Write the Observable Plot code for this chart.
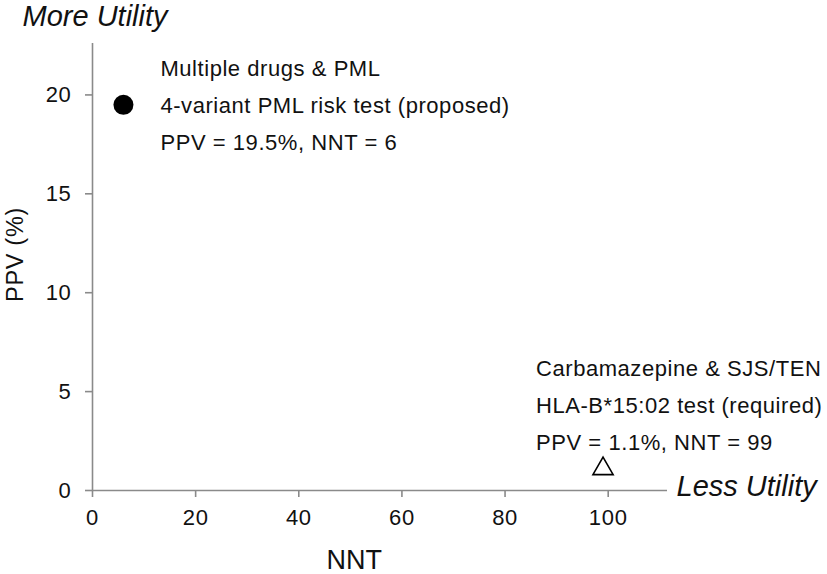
<!DOCTYPE html>
<html>
<head>
<meta charset="utf-8">
<script src="https://cdn.jsdelivr.net/npm/d3@7"></script>
<script src="https://cdn.jsdelivr.net/npm/@observablehq/plot@0.6"></script>
<style>
  html, body { margin: 0; padding: 0; background: #fff; }
  #chart svg { display: block; }
  #chart svg text { letter-spacing: 0.03em; }
  #chart svg .nospace text { letter-spacing: 0; }
  #chart svg .ann text { letter-spacing: 0.025em; }
</style>
</head>
<body>
<div id="chart"></div>
<script>
// Data
const tests = ["4-variant PML risk test (proposed)", "HLA-B*15:02 test (required)"];
const contexts = ["Multiple drugs & PML", "Carbamazepine & SJS/TEN"];
const nntValues = [6, 99];
const ppvValues = [19.5, 1.1];
const symbols = ["circle", "triangle"];
const xTicks = [0, 20, 40, 60, 80, 100];
const yTicks = [0, 5, 10, 15, 20];

const points = tests.map((t, i) => ({
  test: t, context: contexts[i], nnt: nntValues[i], ppv: ppvValues[i], symbol: symbols[i],
  label: `${contexts[i]}\n${t}\nPPV = ${ppvValues[i]}%, NNT = ${nntValues[i]}`
}));

const font = "Liberation Sans, Arial, Helvetica, sans-serif";
const axisColor = "#8a8a8a";
const textColor = "#111";

const chart = Plot.plot({
  width: 827,
  height: 574,
  marginLeft: 92,
  marginRight: 160,
  marginTop: 43,
  marginBottom: 84,
  style: { fontFamily: font, color: textColor, background: "#fff", overflow: "visible" },
  x: { domain: [0, 111.5] },
  y: { domain: [0, 22.6] },
  marks: [
    Plot.ruleY([0], { stroke: axisColor, strokeWidth: 1.6 }),
    Plot.ruleX([0], { stroke: axisColor, strokeWidth: 1.6 }),
    Plot.axisX({ ticks: xTicks, tickSize: 7, tickPadding: 12, stroke: axisColor, strokeWidth: 1.6, fontSize: 22, fill: textColor, label: null }),
    Plot.axisY({ ticks: yTicks, tickSize: 7, tickPadding: 14, stroke: axisColor, strokeWidth: 1.6, fontSize: 22, fill: textColor, label: null }),
    Plot.dot([points[0]], { x: "nnt", y: "ppv", r: 10, fill: "#000", stroke: "none", symbol: "circle" }),
    Plot.dot([points[1]], { x: "nnt", y: "ppv", r: 7.5, fill: "#fff", stroke: "#000", strokeWidth: 1.6, symbol: "triangle" }),
    Plot.text([points[0]], { className: "ann", x: "nnt", y: "ppv", text: "label", textAnchor: "start", lineAnchor: "middle", lineHeight: 1.68, dx: 37, dy: -4, fontSize: 22, fill: textColor }),
    Plot.text([points[1]], { className: "ann", x: "nnt", y: "ppv", text: "label", textAnchor: "start", lineAnchor: "middle", lineHeight: 1.68, dx: -67, dy: -68, fontSize: 22, fill: textColor }),
    Plot.text(["More Utility"], { className: "nospace", frameAnchor: "top-left", dx: -70, dy: -38, textAnchor: "start", lineAnchor: "top", fontSize: 29, fontStyle: "italic", fill: textColor }),
    Plot.text(["Less Utility"], { className: "nospace", frameAnchor: "bottom-right", dx: 9, dy: -4, textAnchor: "start", lineAnchor: "middle", fontSize: 29, fontStyle: "italic", fill: textColor }),
    Plot.text(["NNT"], { className: "nospace", x: 50, frameAnchor: "bottom", dx: 4, dy: 70, lineAnchor: "middle", fontSize: 27, fill: textColor }),
    Plot.text(["PPV (%)"], { frameAnchor: "left", dx: -77, dy: 35, rotate: -90, lineAnchor: "middle", fontSize: 23.5, fill: textColor })
  ]
});
document.getElementById("chart").appendChild(chart);
</script>
</body>
</html>
